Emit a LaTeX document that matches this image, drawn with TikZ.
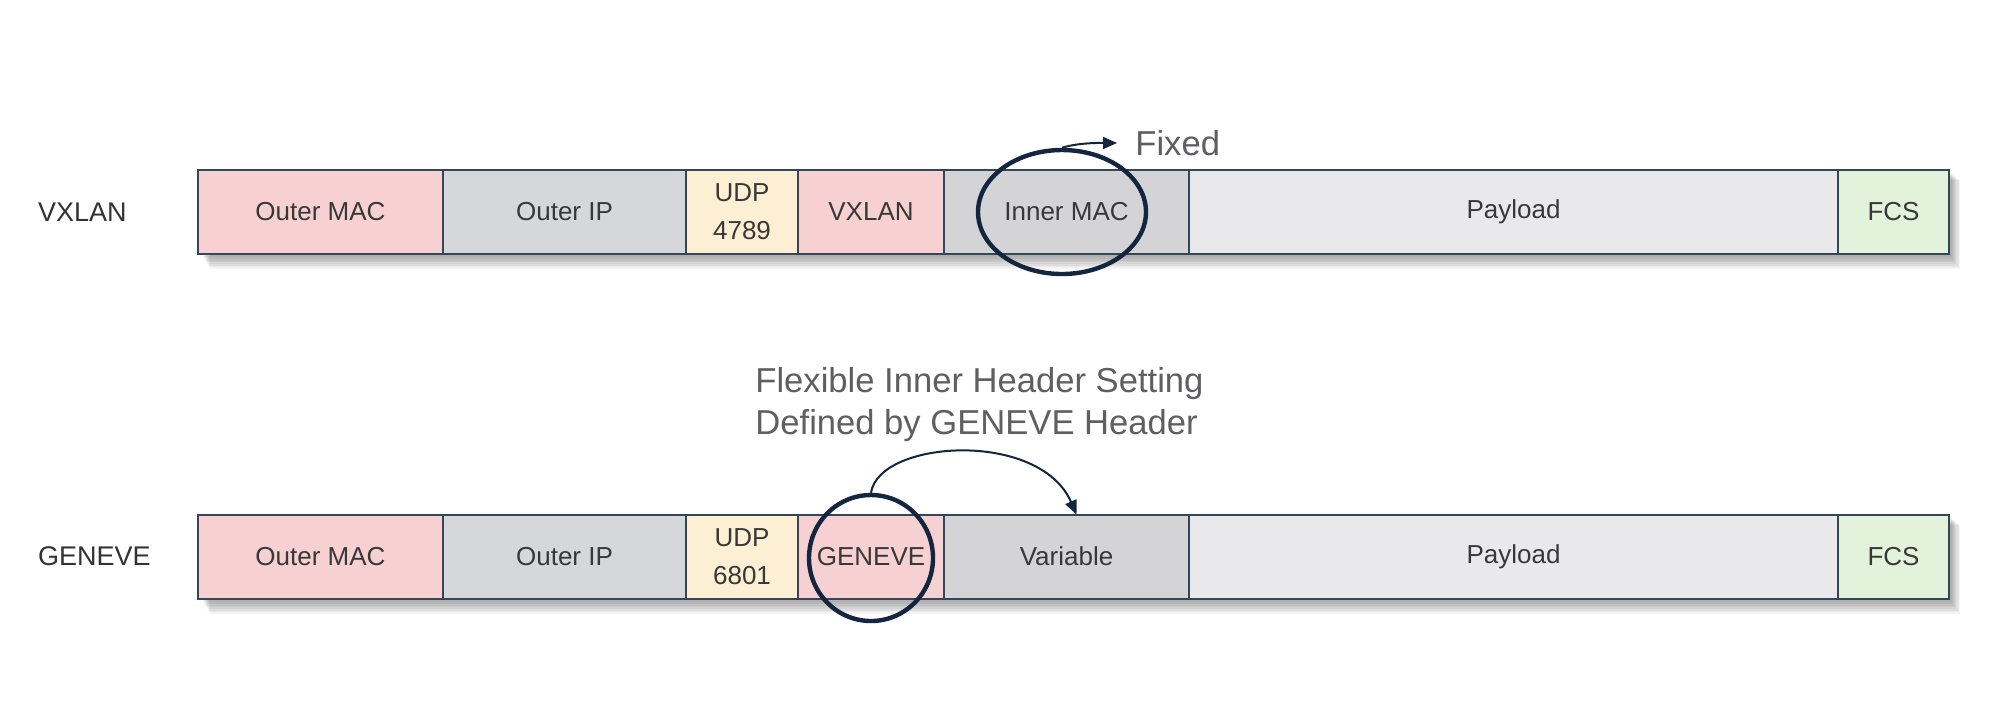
\documentclass[tikz,border=0pt]{standalone}
\usepackage{fontspec}
\setmainfont{Liberation Sans}
\usetikzlibrary{shapes.geometric,arrows.meta}

\definecolor{macpink}{RGB}{247,208,209}
\definecolor{ipgrey}{RGB}{214,215,219}
\definecolor{udpyellow}{RGB}{252,239,211}
\definecolor{innergrey}{RGB}{212,212,214}
\definecolor{loadgrey}{RGB}{233,233,236}
\definecolor{fcsgreen}{RGB}{227,243,219}
\definecolor{celledge}{RGB}{52,70,90}
\definecolor{ringblue}{RGB}{20,37,64}
\definecolor{notegrey}{RGB}{95,95,98}

\tikzset{
  cell/.style={draw=celledge, line width=1pt, minimum height=42pt, inner sep=0pt, outer sep=0pt,
    align=center, text=black!78, font=\fontsize{13}{19}\selectfont},
  rowlabel/.style={anchor=west, text=black!80, font=\fontsize{13.5}{16}\selectfont},
  ringmark/.style={ellipse, draw=ringblue, line width=2.2pt, inner sep=0pt},
  note/.style={text=notegrey, align=left, font=\fontsize{17.3}{21}\selectfont},
  pointer/.style={draw=ringblue, line width=1pt, -{Triangle[length=7pt,width=6pt]}}
}

\begin{document}
\begin{tikzpicture}[x=0.5pt,y=0.5pt,yscale=-1,xscale=1]

\useasboundingbox [fill=white] (0,0) rectangle (2000,714);

% soft shadows under both bars
\foreach \y in {170,515}{
  \foreach \s in {1,...,10}
    \fill [black, opacity=0.045] (200+\s, \y+\s) rectangle (1948+1.2*\s, \y+82+1.7*\s);
}

% VXLAN row
\node [rowlabel] (vlabel) at (31,212) {VXLAN};
\node [cell, fill=macpink, minimum width=122.5pt] (vomac) at (320.5,212) {Outer MAC};
\node [cell, fill=ipgrey, minimum width=121.5pt] (voip) at (564.5,212) {Outer IP};
\node [cell, fill=udpyellow, minimum width=56pt] (vudp) at (742,212) {UDP\\4789};
\node [cell, fill=macpink, minimum width=73pt] (vhdr) at (871,212) {VXLAN};
\node [cell, fill=innergrey, minimum width=122.5pt] (vimac) at (1066.5,212) {Inner MAC};
\node [cell, fill=loadgrey, minimum width=324.5pt] (vload) at (1513.5,212) {Payload};
\node [cell, fill=fcsgreen, minimum width=55.5pt] (vfcs) at (1893.5,212) {FCS};

% ring + fixed
\node [ringmark, minimum width=84pt, minimum height=62pt] (vring) at (1062,212) {};
\node [note, anchor=west, inner sep=4pt] (fixed) at (1127,143) {Fixed};
\draw [pointer, shorten >=5pt] (vring.north) .. controls +(18,-6) and +(-18,0) .. (fixed.west);

% GENEVE row
\node [rowlabel] (glabel) at (31,556.5) {GENEVE};
\node [cell, fill=macpink, minimum width=122.5pt] (gomac) at (320.5,556.5) {Outer MAC};
\node [cell, fill=ipgrey, minimum width=121.5pt] (goip) at (564.5,556.5) {Outer IP};
\node [cell, fill=udpyellow, minimum width=56pt] (gudp) at (742,556.5) {UDP\\6801};
\node [cell, fill=macpink, minimum width=73pt] (ghdr) at (871,556.5) {GENEVE};
\node [cell, fill=innergrey, minimum width=122.5pt] (gvar) at (1066.5,556.5) {Variable};
\node [cell, fill=loadgrey, minimum width=324.5pt] (gload) at (1513.5,556.5) {Payload};
\node [cell, fill=fcsgreen, minimum width=55.5pt] (gfcs) at (1893.5,556.5) {FCS};

% ring + flexible header pointer
\node [ringmark, minimum width=62pt, minimum height=63pt] (gring) at (871,558) {};
\node [note, anchor=west, inner sep=0pt] (flex) at (755,405) {Flexible Inner Header Setting\\Defined by GENEVE Header};
\draw [pointer] (gring.north) .. controls +(8,-53) and +(-37,-85) .. ([xshift=5pt]gvar.north);

\end{tikzpicture}
\end{document}
